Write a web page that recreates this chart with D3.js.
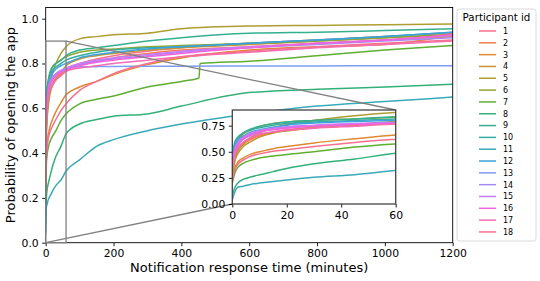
<!DOCTYPE html>
<html><head><meta charset="utf-8">
<script src="https://cdn.jsdelivr.net/npm/d3@7"></script>
<style>body{margin:0;background:#fff} svg{font-family:"DejaVu Sans",sans-serif}</style>
</head><body><svg id="c" width="540" height="281"></svg>
<script>
// ---- data ----
const times  = [0,1,2,4,7,10,15,20,30,45,60,100,150,200,300,400,600,800,1000,1200];
const times7 = [0,1,2,4,7,10,15,20,30,45,60,100,150,200,300,400,452,455,600,800,1000,1200];

const p1  = [0.35,0.48,0.54,0.59,0.63,0.66,0.69,0.71,0.735,0.755,0.775,0.80,0.82,0.835,0.855,0.87,0.89,0.905,0.92,0.935];
const p2  = [0.32,0.45,0.51,0.57,0.62,0.65,0.685,0.705,0.73,0.75,0.77,0.795,0.81,0.825,0.845,0.86,0.875,0.89,0.905,0.92];
const p3  = [0.25,0.35,0.40,0.44,0.48,0.50,0.53,0.55,0.585,0.625,0.66,0.695,0.72,0.75,0.795,0.825,0.86,0.875,0.885,0.925];
const p4  = [0.30,0.42,0.48,0.55,0.60,0.64,0.68,0.70,0.73,0.76,0.79,0.82,0.835,0.845,0.86,0.87,0.885,0.90,0.915,0.93];
const p5  = [0.25,0.42,0.50,0.58,0.64,0.68,0.73,0.76,0.80,0.845,0.875,0.91,0.92,0.928,0.935,0.955,0.967,0.970,0.973,0.976];
const p6  = [0.40,0.55,0.61,0.67,0.71,0.74,0.77,0.785,0.80,0.815,0.83,0.85,0.86,0.865,0.875,0.88,0.89,0.90,0.915,0.93];
const p7  = [0.20,0.30,0.35,0.39,0.42,0.44,0.46,0.475,0.50,0.545,0.575,0.62,0.64,0.655,0.695,0.72,0.735,0.80,0.81,0.835,0.86,0.88];
const p8  = [0.08,0.16,0.20,0.235,0.26,0.28,0.31,0.34,0.385,0.43,0.486,0.53,0.55,0.565,0.575,0.61,0.67,0.685,0.695,0.707];
const p9  = [0.45,0.58,0.63,0.68,0.72,0.745,0.77,0.785,0.80,0.815,0.835,0.86,0.87,0.88,0.90,0.915,0.935,0.94,0.947,0.955];
const p10 = [0.48,0.60,0.64,0.68,0.71,0.73,0.755,0.77,0.785,0.80,0.815,0.835,0.85,0.86,0.87,0.875,0.89,0.905,0.92,0.94];
const p11 = [0.04,0.12,0.16,0.17,0.19,0.20,0.215,0.23,0.255,0.28,0.32,0.37,0.43,0.46,0.50,0.53,0.575,0.61,0.63,0.65];
const p12 = [0.42,0.56,0.61,0.65,0.69,0.71,0.735,0.755,0.775,0.79,0.80,0.825,0.84,0.85,0.865,0.875,0.89,0.905,0.92,0.94];
const p13 = [0.35,0.50,0.56,0.62,0.66,0.69,0.72,0.735,0.75,0.765,0.775,0.785,0.786,0.787,0.788,0.788,0.789,0.789,0.79,0.79];
const p14 = [0.38,0.52,0.58,0.63,0.67,0.70,0.72,0.735,0.75,0.765,0.775,0.795,0.81,0.82,0.835,0.85,0.87,0.885,0.90,0.915];
const p15 = [0.40,0.53,0.59,0.64,0.68,0.705,0.725,0.74,0.755,0.77,0.78,0.80,0.815,0.825,0.84,0.855,0.875,0.89,0.905,0.925];
const p16 = [0.36,0.50,0.56,0.62,0.66,0.69,0.71,0.725,0.745,0.76,0.77,0.79,0.805,0.815,0.83,0.845,0.87,0.89,0.905,0.93];
const p17 = [0.34,0.47,0.53,0.59,0.64,0.67,0.69,0.705,0.725,0.745,0.765,0.78,0.79,0.80,0.815,0.83,0.85,0.87,0.885,0.90];
const p18 = [0.22,0.33,0.38,0.42,0.46,0.48,0.505,0.52,0.55,0.59,0.62,0.68,0.72,0.755,0.80,0.83,0.855,0.875,0.89,0.905];

const participants = ["1","2","3","4","5","6","7","8","9","10","11","12","13","14","15","16","17","18"];
const colors = ["#f77189","#f67b51","#df8932","#c69332","#ae9d31","#92a531","#5fae31","#33b07a","#35af8f","#36ada4","#38aab8","#3ba3dd","#7e9cf4","#a48cf4","#cc7af4","#f461dd","#f66bb4","#f6708f"];

const xTicks = [0,200,400,600,800,1000,1200];
const yTicks = [0,0.2,0.4,0.6,0.8,1.0];
const insetXTicks = [0,20,40,60];
const insetYTicks = [0,0.25,0.5,0.75];

const valueArrays = [p1,p2,p3,p4,p5,p6,p7,p8,p9,p10,p11,p12,p13,p14,p15,p16,p17,p18];
const series = participants.map((id,i)=>{
  const ts = id==="7" ? times7 : times;
  return {id, color: colors[i], pts: ts.map((t,j)=>[t, valueArrays[i][j]])};
});

// ---- drawing ----
const svg = d3.select("#c");
const L=45.7, R=452.7, T=7.5, B=242.7;
const x = d3.scaleLinear([0,1200],[L,R]);
const y = d3.scaleLinear([0,1.05],[B,T]);

const defs = svg.append("defs");
defs.append("clipPath").attr("id","mainClip").append("rect").attr("x",L).attr("y",T).attr("width",R-L).attr("height",B-T);

const main = svg.append("g");
const lineMain = d3.line().x(d=>x(d[0])).y(d=>y(d[1])).curve(d3.curveMonotoneX);
main.append("g").attr("clip-path","url(#mainClip)")
  .selectAll("path").data(series).join("path")
  .attr("d",d=>lineMain(d.pts)).attr("fill","none").attr("stroke",d=>d.color).attr("stroke-width",1.5);

function styleAxis(g, fs){
  g.select(".domain").remove();
  g.selectAll(".tick line").attr("stroke","#000").attr("stroke-width",0.9);
  g.selectAll(".tick text").attr("font-size",fs).attr("fill","#000").attr("font-family","DejaVu Sans");
}
main.append("g").attr("transform",`translate(0,${B})`)
  .call(d3.axisBottom(x).tickValues(xTicks).tickFormat(d3.format("d")).tickSize(3.5).tickPadding(3.5))
  .call(g=>styleAxis(g,10.8));
main.append("g").attr("transform",`translate(${L},0)`)
  .call(d3.axisLeft(y).tickValues(yTicks).tickFormat(d3.format(".1f")).tickSize(3.5).tickPadding(3.5))
  .call(g=>styleAxis(g,10.8));
main.append("rect").attr("x",L).attr("y",T).attr("width",R-L).attr("height",B-T)
  .attr("fill","none").attr("stroke","#000").attr("stroke-width",0.9);

svg.append("text").attr("x",(L+R)/2).attr("y",272).attr("text-anchor","middle")
  .attr("font-size",13).text("Notification response time (minutes)");
svg.append("text").attr("transform",`translate(15,${(T+B)/2}) rotate(-90)`).attr("text-anchor","middle")
  .attr("font-size",13).text("Probability of opening the app");

// inset geometry
const iL=232.3, iR=395.7, iT=110, iB=204;
const xi = d3.scaleLinear([0,60],[iL,iR]);
const yi = d3.scaleLinear([0,0.9],[iB,iT]);

// indicator rectangle and connectors
const grey="#808080";
svg.append("rect").attr("x",x(0)).attr("y",y(0.9)).attr("width",x(60)-x(0)).attr("height",y(0)-y(0.9))
  .attr("fill","none").attr("stroke",grey).attr("stroke-width",1.3);
svg.append("line").attr("x1",x(60)).attr("y1",y(0.9)).attr("x2",iR).attr("y2",iT).attr("stroke",grey).attr("stroke-width",1.3);
svg.append("line").attr("x1",x(0)).attr("y1",y(0)).attr("x2",iL).attr("y2",iB).attr("stroke",grey).attr("stroke-width",1.3);

// inset
defs.append("clipPath").attr("id","insetClip").append("rect").attr("x",iL).attr("y",iT).attr("width",iR-iL).attr("height",iB-iT);
const inset = svg.append("g");
inset.append("rect").attr("x",iL).attr("y",iT).attr("width",iR-iL).attr("height",iB-iT).attr("fill","#fff");
const lineIn = d3.line().x(d=>xi(d[0])).y(d=>yi(d[1])).curve(d3.curveMonotoneX);
inset.append("g").attr("clip-path","url(#insetClip)")
  .selectAll("path").data(series).join("path")
  .attr("d",d=>lineIn(d.pts)).attr("fill","none").attr("stroke",d=>d.color).attr("stroke-width",1.5);
inset.append("g").attr("transform",`translate(0,${iB})`)
  .call(d3.axisBottom(xi).tickValues(insetXTicks).tickFormat(d3.format("d")).tickSize(3.5).tickPadding(3.5))
  .call(g=>styleAxis(g,10.8));
inset.append("g").attr("transform",`translate(${iL},0)`)
  .call(d3.axisLeft(yi).tickValues(insetYTicks).tickFormat(d3.format(".2f")).tickSize(3.5).tickPadding(3.5))
  .call(g=>styleAxis(g,10.8));
inset.append("rect").attr("x",iL).attr("y",iT).attr("width",iR-iL).attr("height",iB-iT)
  .attr("fill","none").attr("stroke","#444").attr("stroke-width",1.3);

// legend
const lg = svg.append("g");
lg.append("rect").attr("x",457).attr("y",9).attr("width",79).attr("height",232).attr("rx",2.5)
  .attr("fill","#fff").attr("stroke","#d0d0d0").attr("stroke-width",0.8);
lg.append("text").attr("x",496.5).attr("y",20.5).attr("text-anchor","middle").attr("font-size",10.3).text("Participant id");
const ent = lg.selectAll("g.e").data(series).join("g").attr("class","e")
  .attr("transform",(d,i)=>`translate(0,${31+i*11.82})`);
ent.append("line").attr("x1",479).attr("x2",496).attr("stroke",d=>d.color).attr("stroke-width",1.5);
ent.append("text").attr("x",503).attr("y",2.9).attr("font-size",8).text(d=>d.id);
</script></body></html>
